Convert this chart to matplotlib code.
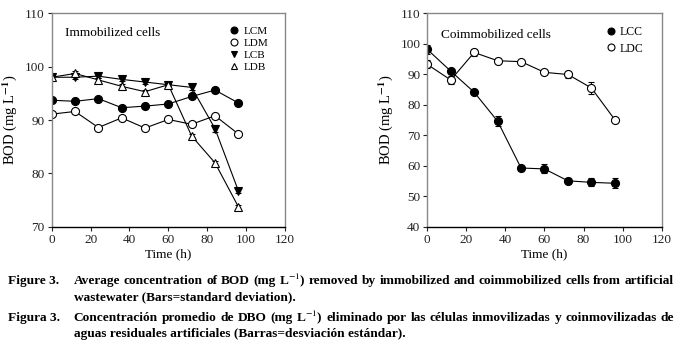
import matplotlib
matplotlib.use("Agg")
import matplotlib.pyplot as plt
from matplotlib.lines import Line2D

plt.rcParams['font.family'] = ['Liberation Serif', 'DejaVu Serif']
plt.rcParams['mathtext.fontset'] = 'stix'

# time points (h)
time = [0, 12, 24, 36, 48, 60, 72, 84, 96]

# immobilized cells
lcm = [93.7, 93.5, 94.0, 92.3, 92.6, 93.0, 94.4, 95.6, 93.2]
ldm = [91.1, 91.6, 88.6, 90.4, 88.5, 90.1, 89.2, 90.8, 87.4]
lcb = [98.0, 98.0, 98.2, 97.6, 97.1, 96.6, 96.1, 88.4, 76.8]
ldb = [98.0, 98.7, 97.5, 96.3, 95.3, 96.6, 87.0, 82.0, 73.8]
lcb_err = [0.3, 0.4, 0.3, 0.3, 0.3, 0.2, 0.4, 0.6, 0.4]
ldb_err = [0.3, 0.4, 0.4, 0.5, 0.4, 0.2, 0.4, 0.4, 0.4]

# coimmobilized cells
lcc = [98.1, 91.0, 84.1, 74.6, 59.3, 59.0, 55.1, 54.6, 54.3]
ldc = [93.2, 88.1, 97.1, 94.4, 94.1, 90.6, 89.9, 85.5, 75.1]
lcc_err = [1.6, 0.7, 0.4, 1.7, 0.5, 1.5, 0.8, 1.3, 1.7]
ldc_err = [1.3, 1.2, 1.2, 0.9, 0.6, 0.5, 1.1, 2.1, 0.5]

fig = plt.figure(figsize=(6.84, 3.53), dpi=100)
ax1 = fig.add_axes([0.0756, 0.357, 0.341, 0.606])
ax2 = fig.add_axes([0.6247, 0.357, 0.3427, 0.606])

ms = 5.8
kw = dict(color='black', lw=0.8, capsize=2, elinewidth=0.8, capthick=0.8,
          markersize=ms, markeredgewidth=0.8)

ax1.errorbar(time, lcm, fmt='-o', mfc='black', mec='black', **kw)
ax1.errorbar(time, ldm, fmt='-o', mfc='white', mec='black', **kw)
ax1.errorbar(time, lcb, yerr=lcb_err, fmt='-v', mfc='black', mec='black', **kw)
ax1.errorbar(time, ldb, yerr=ldb_err, fmt='-^', mfc='white', mec='black', **kw)

ax2.errorbar(time, lcc, yerr=lcc_err, fmt='-o', mfc='black', mec='black', **kw)
ax2.errorbar(time, ldc, yerr=ldc_err, fmt='-o', mfc='white', mec='black', **kw)

for ax, lo, hi, step in [(ax1, 70, 110, 10), (ax2, 40, 110, 10)]:
    ax.set_xlim(0, 120)
    ax.set_ylim(lo, hi)
    ax.set_xticks(range(0, 121, 20))
    ax.set_yticks(range(lo, hi + 1, step))
    ax.tick_params(direction='out', length=3, width=0.8, labelsize=9.5, pad=2, colors='#222222')
    for s in ['left', 'right', 'top']:
        ax.spines[s].set_color('#888888')
        ax.spines[s].set_linewidth(1.0)
    ax.spines['bottom'].set_color('black')
    ax.spines['bottom'].set_linewidth(1.0)
    ax.set_xlabel('Time (h)', fontsize=9.5, labelpad=2)
    ax.set_ylabel(r'BOD (mg L$^{\mathbf{-1}}$)', fontsize=10.5, labelpad=4)

ax1.text(7, 105.8, 'Immobilized cells', fontsize=9.5)
ax2.text(7, 102.0, 'Coimmobilized cells', fontsize=9.5)

# legends with plain marker handles (no error bars)
def mk(m, fc):
    return Line2D([], [], ls='none', marker=m, mfc=fc, mec='black', mew=0.8, markersize=5)

ax1.legend([mk('o', 'black'), mk('o', 'white'), mk('v', 'black'), mk('^', 'white')],
           ['LCM', 'LDM', 'LCB', 'LDB'], loc='upper left', bbox_to_anchor=(0.74, 0.965),
           frameon=False, fontsize=8, handlelength=0.8, handletextpad=0.4,
           labelspacing=0.2, borderpad=0)
ax2.legend([mk('o', 'black'), mk('o', 'white')], ['LCC', 'LDC'],
           loc='upper left', bbox_to_anchor=(0.74, 0.965), frameon=False, fontsize=8.5,
           handlelength=0.8, handletextpad=0.3, labelspacing=0.35, borderpad=0)

# caption, justified lines
lines = [
    (0.195, 'Figure 3.', 'Average concentration of BOD (mg L$^{-1}$) removed by immobilized and coimmobilized cells from artificial', True),
    (0.150, '', 'wastewater (Bars=standard deviation).', False),
    (0.090, 'Figura 3.', 'Concentración promedio de DBO (mg L$^{-1}$) eliminado por las células inmovilizadas y coinmovilizadas de', True),
    (0.045, '', 'aguas residuales artificiales (Barras=desviación estándar).', False),
]
renderer = fig.canvas.get_renderer()
x_head = 0.012
x_text = 0.108
x_right = 0.985
avail = (x_right - x_text) * fig.bbox.width

# pick one font size so the longest line just fits with normal word spacing
fs = 10.5
for _, _, body, just in lines:
    if just:
        t = fig.text(0, 0, body, fontsize=10, fontweight='bold')
        w = t.get_window_extent(renderer).width
        t.remove()
        fs = min(fs, 10 * avail / w)

for y, head, body, justify in lines:
    if head:
        fig.text(x_head, y, head, fontsize=fs, fontweight='bold', va='baseline')
    if not justify:
        fig.text(x_text, y, body, fontsize=fs, fontweight='bold', va='baseline')
        continue
    words = body.split(' ')
    arts = [fig.text(0, y, w, fontsize=fs, fontweight='bold', va='baseline') for w in words]
    widths = [a.get_window_extent(renderer).width / fig.bbox.width for a in arts]
    gap = (x_right - x_text - sum(widths)) / (len(words) - 1)
    xpos = x_text
    for a, w in zip(arts, widths):
        a.set_x(xpos)
        xpos += w + gap

fig.savefig('out.png', dpi=100)
